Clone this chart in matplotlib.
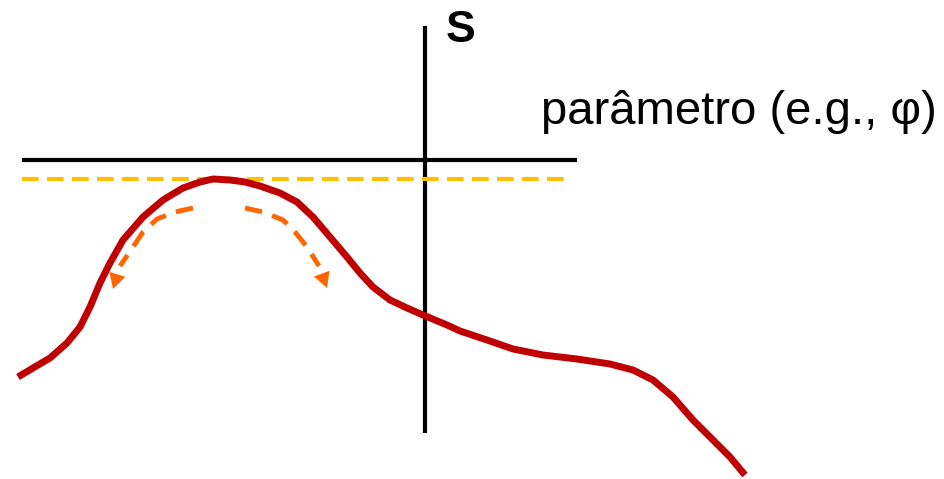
import matplotlib.pyplot as plt

plt.rcParams['font.family'] = ['Liberation Sans', 'DejaVu Sans']

# curve of S vs. parameter (pixel-like coordinates, y grows downward)
curve_x = [18, 33, 50, 67, 80, 90, 100, 110, 123, 143, 163, 183, 200, 213, 230, 245, 260,
           280, 297, 313, 330, 347, 360, 373, 390, 407, 423, 447, 460, 487,
           513, 543, 577, 610, 633, 653, 673, 693, 713, 730, 745]
curve_y = [377, 368, 358, 343, 327, 307, 283, 263, 240, 217, 200, 188, 182, 179, 180, 182, 186,
           193, 202, 217, 237, 257, 273, 287, 300, 308, 315, 325, 331, 340,
           349, 355, 359, 364, 370, 380, 397, 420, 440, 457, 475]

# dashed arrows around the maximum: shaft points, then arrowhead base -> tip
left_x = [193, 175, 157, 143, 133, 120]
left_y = [208, 212, 219, 232, 247, 266]
left_head = ((117.5, 274), (113, 289))
right_x = [245, 263, 283, 295, 307, 319]
right_y = [208, 212, 220, 232, 247, 266]
right_head = ((321.5, 273), (327, 288))

# axes lines
h_axis = (22, 577, 160)
v_axis = (425, 26, 433)
level_line = (22, 572, 179)

fig = plt.figure(figsize=(9.44, 4.79), dpi=100)
ax = fig.add_axes([0, 0, 1, 1])
ax.set_xlim(0, 944)
ax.set_ylim(479, 0)
ax.axis('off')

ax.plot([h_axis[0], h_axis[1]], [h_axis[2], h_axis[2]], color='black', lw=3, solid_capstyle='butt')
ax.plot([v_axis[0], v_axis[0]], [v_axis[1], v_axis[2]], color='black', lw=3, solid_capstyle='butt')

ax.plot([level_line[0], level_line[1]], [level_line[2], level_line[2]], color='#FFC000',
        lw=3, dashes=(4, 2), dash_capstyle='butt')

ax.plot(curve_x, curve_y, color='#C00000', lw=5, solid_joinstyle='round', solid_capstyle='butt')

orange = '#FF6600'
for xs, ys, head in [(left_x, left_y, left_head), (right_x, right_y, right_head)]:
    ax.plot(xs, ys, color=orange, lw=3.5, dashes=(3.6, 2.2), dash_capstyle='butt')
    ax.annotate('', xy=head[1], xytext=head[0],
                arrowprops=dict(arrowstyle='-|>,head_length=1.1,head_width=0.6',
                                color=orange, lw=0, shrinkA=0, shrinkB=0))

ax.text(446, 30, 'S', fontsize=32, fontweight='bold', ha='left', va='center')
ax.text(541, 112, 'parâmetro (e.g., φ)', fontsize=34, ha='left', va='center')

plt.savefig('out.png', dpi=100)
